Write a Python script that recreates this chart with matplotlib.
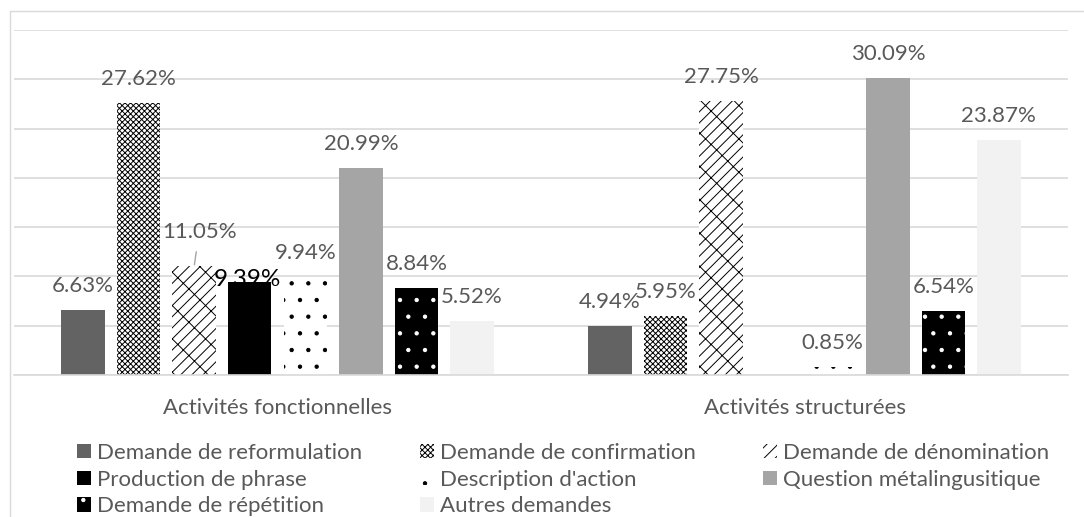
import numpy as np
import matplotlib
matplotlib.use('Agg')
import matplotlib.pyplot as plt
from matplotlib.patches import Rectangle

plt.rcParams['font.family'] = ['Lato', 'DejaVu Sans']
plt.rcParams['hatch.linewidth'] = 0.7

categories = ['Activités fonctionnelles', 'Activités structurées']
series = ['Demande de reformulation', 'Demande de confirmation', 'Demande de dénomination',
          'Production de phrase', "Description d'action", 'Question métalingusitique',
          'Demande de répétition', 'Autres demandes']
fonctionnelles = [6.63, 27.62, 11.05, 9.39, 9.94, 20.99, 8.84, 5.52]
structurees = [4.94, 5.95, 27.75, np.nan, 0.85, 30.09, 6.54, 23.87]

# fills: plain greys, black patterns on white, white dots on black
styles = [
    dict(facecolor='#636363', edgecolor='#636363'),
    dict(facecolor='white', edgecolor='black', hatch='xxxxxx'),
    dict(facecolor='white', edgecolor='black', hatch='///\\'),
    dict(facecolor='black', edgecolor='black'),
    dict(facecolor='white', edgecolor='black', hatch='.'),
    dict(facecolor='#a5a5a5', edgecolor='#a5a5a5'),
    dict(facecolor='black', edgecolor='white', hatch='.'),
    dict(facecolor='#f2f2f2', edgecolor='#f2f2f2'),
]

TXT = '#595959'
FS = 16
W, H = 1084, 517
fig = plt.figure(figsize=(W / 100, H / 100), dpi=100)
ax = fig.add_axes([14 / W, (H - 375) / H, (1068 - 14) / W, (375 - 30) / H])

step = 55.5 / 526.5
width = 43.5 / 526.5
xc = np.arange(len(categories))
handles = []
for i, name in enumerate(series):
    vals = [fonctionnelles[i], structurees[i]]
    bars = ax.bar(xc + (i - 3.5) * step, vals, width, label=name, linewidth=0, **styles[i])
    handles.append(bars)
    for j, (b, v) in enumerate(zip(bars, vals)):
        if np.isnan(v):
            continue
        x = b.get_x() + b.get_width() / 2
        txt = f'{v:.2f}%'
        if j == 0 and i == 2:
            ax.annotate(txt, (x, v), xytext=(3.6, 24.5), textcoords='offset points',
                        ha='center', va='center', color=TXT, fontsize=FS,
                        arrowprops=dict(arrowstyle='-', color='#a6a6a6', lw=1, shrinkA=5, shrinkB=1))
        elif j == 0 and i == 3:
            ax.annotate(txt, (x, v), xytext=(-2, 2), textcoords='offset points',
                        ha='center', va='center', color='black', fontsize=FS + 1.5)
        else:
            ax.annotate(txt, (x, v), xytext=(0, 17.3), textcoords='offset points',
                        ha='center', va='center', color=TXT, fontsize=FS)

ax.set_xlim(-0.5, 1.5)
ax.set_ylim(0, 35)
ax.set_yticks(np.arange(0, 36, 5))
ax.set_yticklabels([])
ax.grid(axis='y', color='#d9d9d9', lw=1.2)
ax.set_axisbelow(True)
ax.set_xticks(xc)
ax.set_xticklabels(categories, color=TXT, fontsize=FS)
ax.tick_params(length=0, pad=16.5)
for s in ['top', 'right', 'left']:
    ax.spines[s].set_visible(False)
ax.spines['bottom'].set_color('#d9d9d9')
ax.spines['bottom'].set_linewidth(1.2)

# legend laid out row by row in three columns
cols = [[0, 3, 6], [1, 4, 7], [2, 5]]
col_x = [77, 420, 763]
for cx, idx in zip(col_x, cols):
    lg = fig.legend([handles[k] for k in idx], [series[k] for k in idx],
                    loc='upper left', bbox_to_anchor=(cx / W, 1 - 443 / H),
                    frameon=False, fontsize=FS, borderpad=0, borderaxespad=0,
                    handlelength=0.63, handleheight=0.63, handletextpad=0.27,
                    labelspacing=0.3)
    for t in lg.get_texts():
        t.set_color(TXT)

# chart area border
fig.add_artist(Rectangle((10 / W, -0.5), 2, 1.5 - 11 / H, transform=fig.transFigure,
                         fill=False, edgecolor='#d9d9d9', lw=1))

fig.savefig('out.png', dpi=100)
